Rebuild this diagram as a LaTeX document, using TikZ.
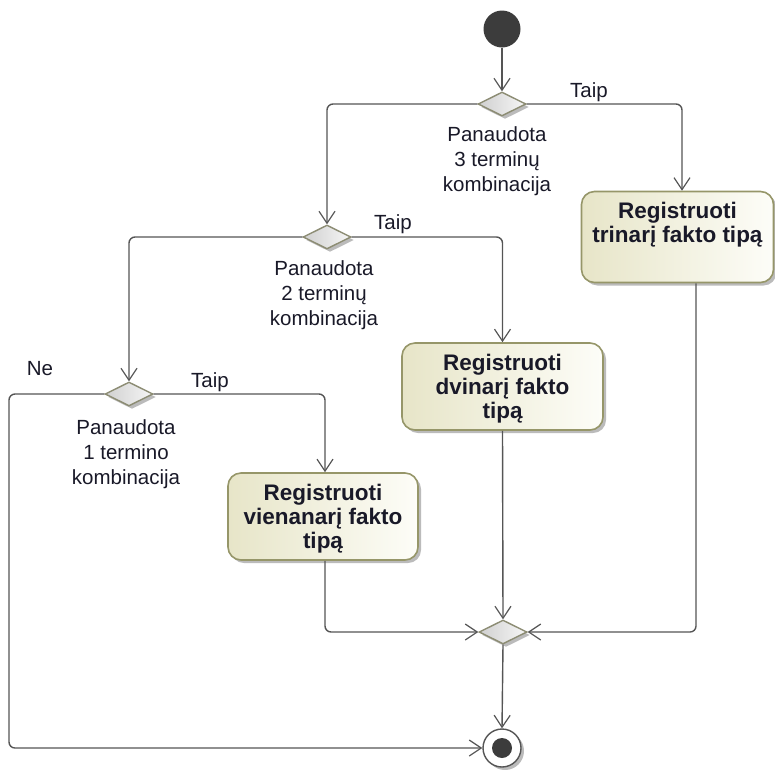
\documentclass[tikz,border=0pt]{standalone}
\usepackage{fontspec}
\setmainfont{Liberation Sans}
\usetikzlibrary{arrows.meta,shapes.geometric,shadows}

\definecolor{wire}{RGB}{85,85,85}
\definecolor{boxedge}{RGB}{150,150,105}
\definecolor{boxfillL}{RGB}{231,229,200}
\definecolor{boxfillR}{RGB}{253,253,248}
\definecolor{diaedge}{RGB}{140,140,115}
\definecolor{diaL}{RGB}{208,208,208}
\definecolor{diaR}{RGB}{246,246,246}
\definecolor{ink}{RGB}{25,25,40}
\definecolor{blob}{RGB}{60,60,60}
\definecolor{shade}{RGB}{170,170,170}

% text of an action box, hung from the top of the box
\newcommand{\acttext}[3]{\parbox[c][#2][t]{#1}{\centering #3}}

\begin{document}
\begin{tikzpicture}[x=1pt,y=-1pt,
  flow/.style={draw=wire, line width=1.4pt, rounded corners=6pt,
    -{Straight Barb[length=12pt,width=16pt,line width=1.2pt]}},
  lbl/.style={text=ink, inner sep=0pt, font=\fontsize{20.5}{25}\selectfont},
  actbox/.style={draw=boxedge, line width=1.6pt, rounded corners=13pt,
    left color=boxfillL, right color=boxfillR, inner sep=0pt, text=ink,
    drop shadow={shadow xshift=3pt, shadow yshift=-3pt, fill=shade, opacity=0.8},
    font=\fontsize{22.5}{24}\selectfont\bfseries},
  decision/.style={diamond, aspect=2, minimum width=48pt, minimum height=24pt,
    inner sep=0pt, draw=diaedge, line width=1.4pt, left color=diaL, right color=diaR,
    drop shadow={shadow xshift=3pt, shadow yshift=-3pt, fill=shade, opacity=0.8}},
  startnode/.style={circle, minimum size=37pt, inner sep=0pt, fill=blob},
  endnode/.style={circle, minimum size=38pt, inner sep=0pt, draw=wire, line width=1.4pt,
    fill=white, drop shadow={shadow xshift=3pt, shadow yshift=-3pt, fill=shade, opacity=0.8},
    path picture={\fill[blob] (path picture bounding box.center) circle (10pt);}}
]
\useasboundingbox (0,0) rectangle (775,769);

% control nodes
\node[startnode] (init) at (502,29) {};
\node[decision] (d1) at (502,104) {};
\node[decision] (d2) at (327,237) {};
\node[decision] (d3) at (129,394) {};
\node[decision] (m) at (503,632) {};
\node[endnode] (fin) at (502,748) {};
\coordinate (lc) at (9,748);

% actions
\node[actbox, minimum width=192pt, minimum height=91pt] (a3) at (677.5,237)
  {\acttext{186pt}{69pt}{Registruoti\\trinarį fakto tipą}};
\node[actbox, minimum width=201pt, minimum height=87pt] (a2) at (502.5,386.5)
  {\acttext{195pt}{65pt}{Registruoti\\dvinarį fakto\\tipą}};
\node[actbox, minimum width=190pt, minimum height=87pt] (a1) at (323,516.5)
  {\acttext{186pt}{65pt}{Registruoti\\vienanarį fakto\\tipą}};

% guard and decision labels
\node[lbl] (t1) at (589,92) {Taip};
\node[lbl] (t2) at (393,224) {Taip};
\node[lbl] (t3) at (210,382) {Taip};
\node[lbl] (ne) at (40,369) {Ne};
\node[lbl, align=center] (c1) at (497,161) {Panaudota\\3 terminų\\kombinacija};
\node[lbl, align=center] (c2) at (324,295) {Panaudota\\2 terminų\\kombinacija};
\node[lbl, align=center] (c3) at (126,454) {Panaudota\\1 termino\\kombinacija};

% flows
\draw[flow] (init) -- (d1.north);
\draw[flow] (d1.east) -| ([xshift=4.5pt]a3.north);
\draw[flow] (d1.west) -| (d2.north);
\draw[flow] (d2.east) -| (a2.north);
\draw[flow] (d2.west) -| (d3.north);
\draw[flow] (d3.east) -| ([xshift=2pt]a1.north);
\draw[flow] (d3.west) -| (lc) -- (fin.west);
\draw[flow] ([xshift=2pt]a1.south) |- (m.west);
\draw[flow] (a2.south) -- (m.north);
\draw[flow] ([xshift=18.5pt]a3.south) |- (m.east);
\draw[flow] (m.south) -- (fin.north);
\end{tikzpicture}
\end{document}
